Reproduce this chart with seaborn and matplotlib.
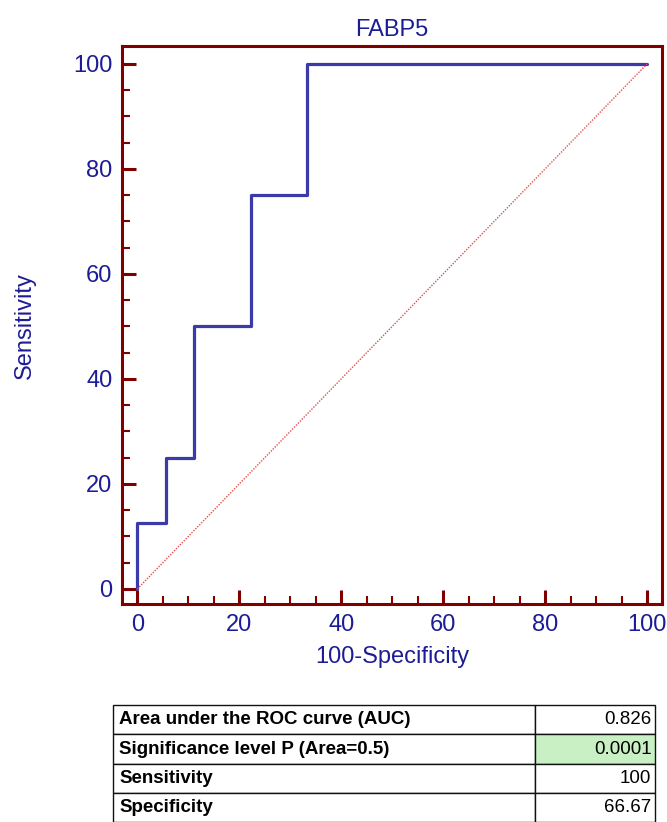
import numpy as np
import pandas as pd
import matplotlib
matplotlib.use("Agg")
import matplotlib.pyplot as plt
import seaborn as sns
from matplotlib.ticker import MultipleLocator

# ROC curve vertices (100-Specificity, Sensitivity)
fpr = [0, 0, 5.56, 5.56, 11.11, 11.11, 22.22, 22.22, 33.33, 33.33, 100]
tpr = [0, 12.5, 12.5, 25, 25, 50, 50, 75, 75, 100, 100]
ref_line = [0, 100]

row_labels = ["Area under the ROC curve (AUC)",
              "Significance level P (Area=0.5)",
              "Sensitivity",
              "Specificity"]
row_values = ["0.826", "0.0001", "100", "66.67"]

sns.set_style("white")
plt.rcParams['font.family'] = ['Liberation Sans', 'DejaVu Sans']

frame_col = "#800000"
text_col = "#1c1c96"
curve_col = "#3a3aaa"

fig = plt.figure(figsize=(6.67, 8.22), dpi=100)
ax = fig.add_axes([0.183, 0.265, 0.810, 0.679])

df = pd.DataFrame(dict(fpr=fpr, tpr=tpr))
sns.lineplot(data=df, x="fpr", y="tpr", sort=False, estimator=None,
             color=curve_col, lw=2.3, ax=ax)
sns.lineplot(x=ref_line, y=ref_line, color="#e0504a", lw=1.0,
             linestyle=(0, (1, 1)), ax=ax)

ax.set_xlim(-3, 103)
ax.set_ylim(-2.9, 103.4)
ax.xaxis.set_major_locator(MultipleLocator(20))
ax.xaxis.set_minor_locator(MultipleLocator(5))
ax.yaxis.set_major_locator(MultipleLocator(20))
ax.yaxis.set_minor_locator(MultipleLocator(5))

for s in ax.spines.values():
    s.set_color(frame_col)
    s.set_linewidth(2.2)
ax.tick_params(which="major", direction="in", length=10, width=2.2,
               color=frame_col, labelcolor=text_col, labelsize=17,
               bottom=True, left=True, top=False, right=False, pad=7)
ax.tick_params(which="minor", direction="in", length=6, width=1.5,
               color=frame_col, bottom=True, left=True, top=False, right=False)

ax.set_xlabel("100-Specificity", color=text_col, fontsize=17, labelpad=7)
ax.set_ylabel("Sensitivity", color=text_col, fontsize=17, labelpad=27)
ax.set_title("FABP5", color=text_col, fontsize=17, pad=7)

# results table
tax = fig.add_axes([0.1694, 0.0, 0.8126, 0.142])
tax.axis("off")
cells = [[a, b] for a, b in zip(row_labels, row_values)]
tbl = tax.table(cellText=cells, colWidths=[0.779, 0.221], bbox=[0, 0, 1, 1])
tbl.auto_set_font_size(False)
for (r, c), cell in tbl.get_celld().items():
    cell.set_linewidth(1.0)
    cell.set_edgecolor("#111111")
    txt = cell.get_text()
    txt.set_fontsize(13.5)
    txt.set_color("black")
    if c == 0:
        txt.set_ha("left")
        txt.set_fontweight("bold")
        cell.PAD = 0.015
    else:
        txt.set_ha("right")
        cell.PAD = 0.03
tbl[1, 1].set_facecolor("#c9f0c4")

fig.savefig("out.png", dpi=100)
